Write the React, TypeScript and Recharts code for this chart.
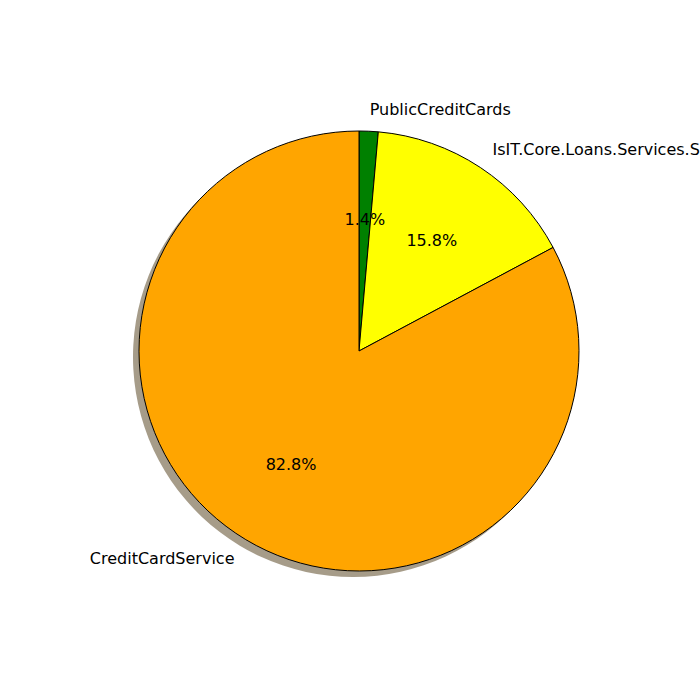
import React from "react";
import { PieChart, Pie, Cell } from "recharts";

const names = ["PublicCreditCards", "IsIT.Core.Loans.Services.ServiceName", "CreditCardService"];
const values = [1.4, 15.8, 82.8];
const colors = ["green", "yellow", "orange"];

const data = names.map((n, i) => ({ name: n, value: values[i] }));
const R = 220;
const RAD = Math.PI / 180;

const renderLabel = (p: any) => {
  const { cx, cy, midAngle, index } = p;
  const c = Math.cos(-midAngle * RAD);
  const s = Math.sin(-midAngle * RAD);
  const px = cx + R * 0.6 * c;
  const py = cy + R * 0.6 * s;
  const lx = cx + R * 1.1 * c;
  const ly = cy + R * 1.1 * s;
  return (
    <g>
      <text x={px} y={py} textAnchor="middle" dominantBaseline="central" fontSize={16} fill="#000" fontFamily="DejaVu Sans">
        {values[index].toFixed(1)}%
      </text>
      <text x={lx} y={ly} textAnchor={c >= 0 ? "start" : "end"} dominantBaseline="central" fontSize={16} fill="#000" fontFamily="DejaVu Sans">
        {names[index]}
      </text>
    </g>
  );
};

export default function App() {
  return (
    <div style={{ position: "absolute", left: 0, top: 0, width: 700, height: 700, background: "#fff", overflow: "hidden" }}>
      <PieChart width={700} height={700}>
        <Pie data={data} dataKey="value" cx={348} cy={352} outerRadius={R} startAngle={90} endAngle={-270}
          stroke="none" isAnimationActive={false} label={false}>
          {data.map((d, i) => <Cell key={i} fill="#6b5a3a" fillOpacity={0.6} />)}
        </Pie>
        <Pie data={data} dataKey="value" cx={354} cy={346} outerRadius={R} startAngle={90} endAngle={-270}
          stroke="#000" strokeWidth={1} isAnimationActive={false} labelLine={false} label={renderLabel}>
          {data.map((d, i) => <Cell key={i} fill={colors[i]} />)}
        </Pie>
      </PieChart>
    </div>
  );
}
